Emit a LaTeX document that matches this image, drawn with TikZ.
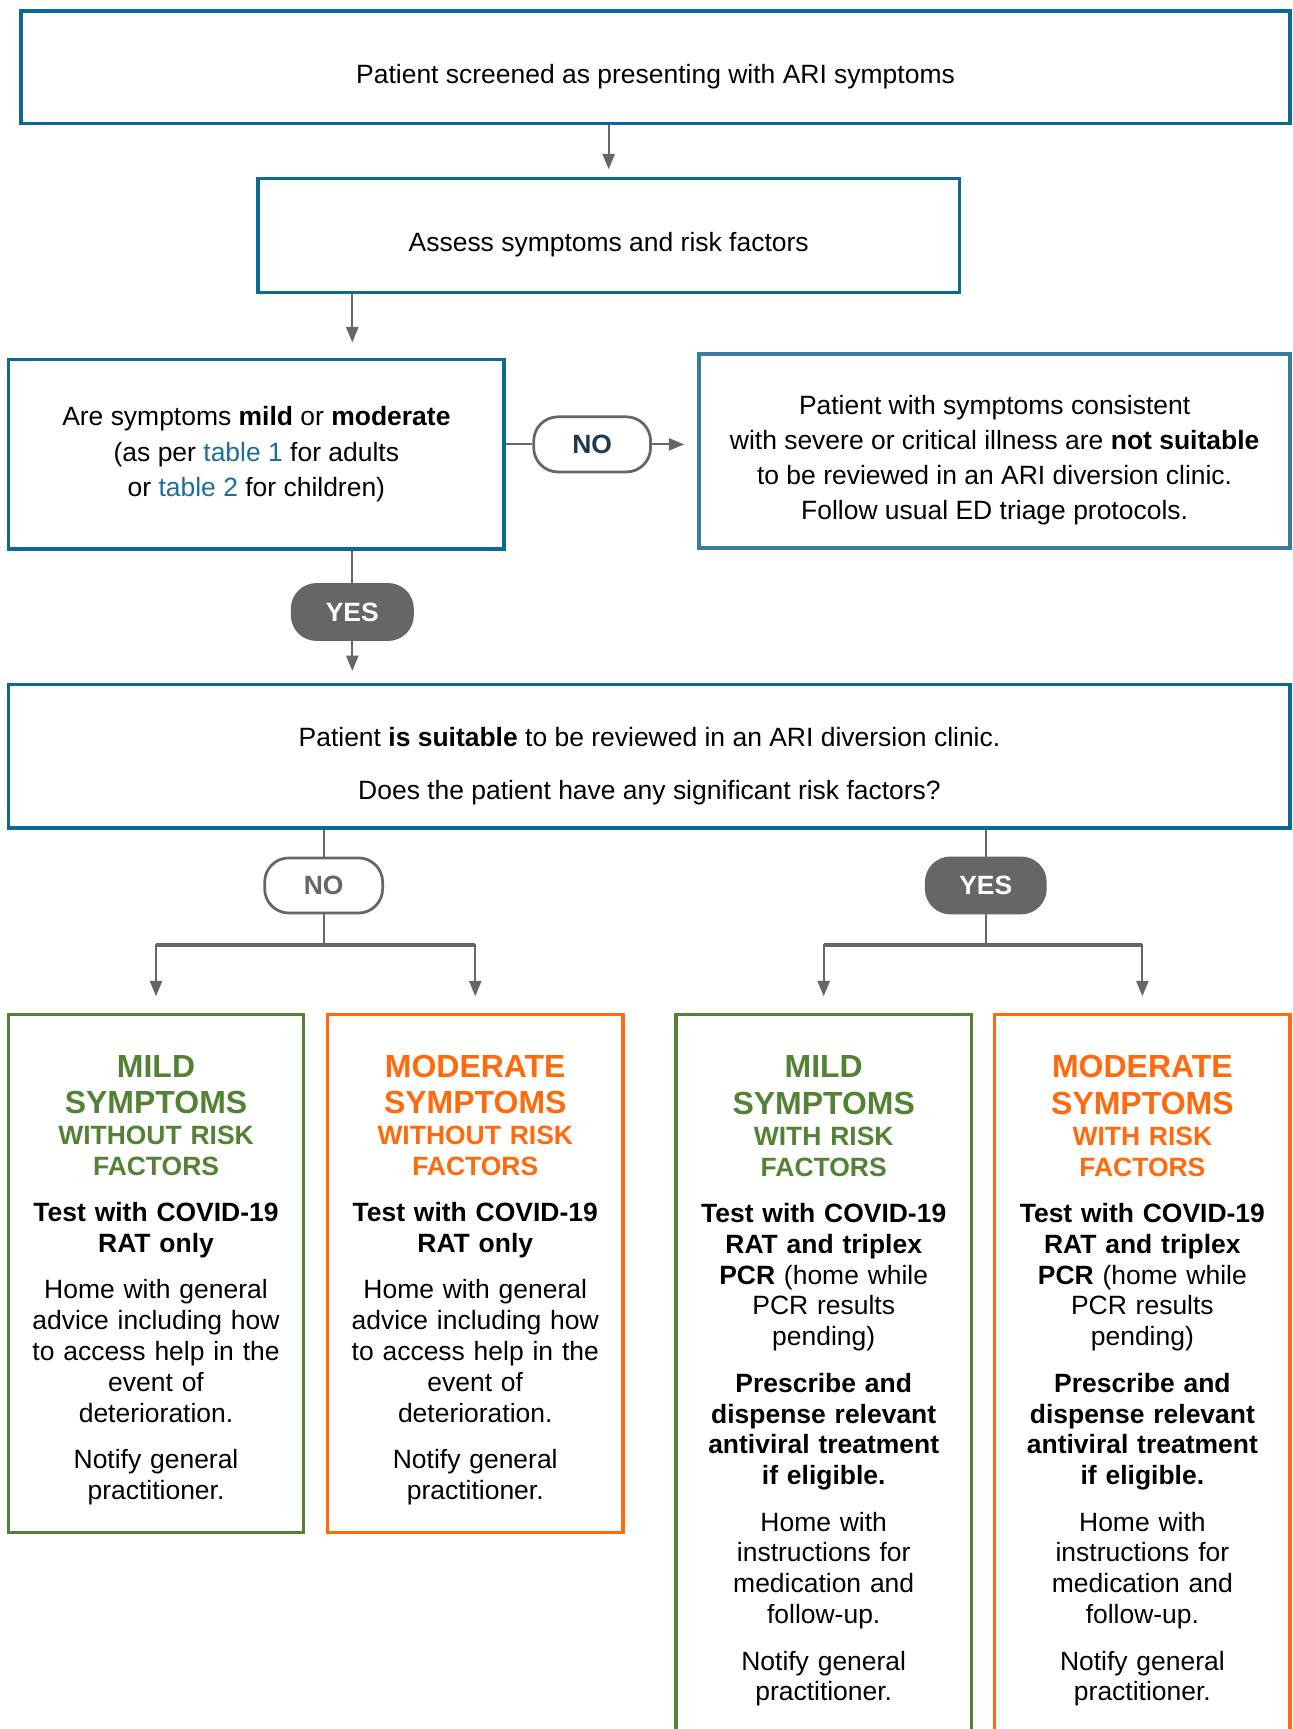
\documentclass[tikz,border=0pt]{standalone}
\usepackage{fontspec}
\setmainfont{Liberation Sans}
\usetikzlibrary{arrows.meta}
\definecolor{boxblue}{HTML}{0B6A94}
\definecolor{paleblue}{HTML}{3B7C9A}
\definecolor{linkblue}{HTML}{1B6E9A}
\definecolor{mildgreen}{HTML}{548235}
\definecolor{modorange}{HTML}{FF6A0D}
\definecolor{linegray}{HTML}{666666}
\definecolor{pillnavy}{HTML}{1F3A4E}
\newcommand{\bodyfont}{\fontsize{12}{14}\selectfont}
\newcommand{\headfont}{\fontsize{14.5}{16.5}\selectfont\bfseries}
\newcommand{\tablink}[1]{\textcolor{linkblue}{#1}}

\begin{document}
\begin{tikzpicture}[x=0.5pt,y=-0.5pt,font=\fontsize{12}{16}\selectfont,
  flow/.style={-{Triangle[length=7pt,width=5.5pt]},line width=1pt,draw=linegray},
  joint/.style={line width=1pt,draw=linegray},
  fork/.style={line width=1.6pt,draw=linegray},
  bluebox/.style={draw=boxblue,line width=1.5pt,inner sep=0pt,align=center},
  pill/.style={draw=linegray,line width=1.25pt,rounded corners=11pt,minimum height=25pt,
    inner sep=0pt,font=\fontsize{12}{14}\selectfont\bfseries},
  outcome/.style={line width=1.5pt,inner sep=0pt,text width=128pt,align=center,
    minimum width=134pt,font=\bodyfont}]
\useasboundingbox (0,0) rectangle (1172,1568);
\clip (0,0) rectangle (1172,1568);

\node[bluebox,minimum width=575.5pt,minimum height=51pt,text height=17pt,text depth=2.5pt]
  (screen) at (594.5,61) {Patient screened as presenting with ARI symptoms};
\node[bluebox,minimum width=318pt,minimum height=51.5pt,text height=17pt,text depth=2.5pt]
  (assess) at (552,213.5) {Assess symptoms and risk factors};
\node[bluebox,minimum width=224.5pt,minimum height=86pt] (severity) at (232.5,412)
  {Are symptoms \textbf{mild} or \textbf{moderate}\\(as per \tablink{table 1} for adults\\or \tablink{table 2} for children)};
\node[bluebox,draw=paleblue,minimum width=268pt,minimum height=88pt] (severe) at (902,409)
  {\rule{0pt}{17pt}Patient with symptoms consistent\\with severe or critical illness are \textbf{not suitable}\\to be reviewed in an ARI diversion clinic.\\Follow usual ED triage protocols.};
\node[bluebox,minimum width=581pt,minimum height=65pt] (suitable) at (589,686)
  {\rule{0pt}{17.5pt}Patient \textbf{is suitable} to be reviewed in an ARI diversion clinic.\\[8pt]Does the patient have any significant risk factors?};

\node[pill,fill=white,minimum width=53pt,text=pillnavy] (noA) at (537,403) {NO};
\node[pill,fill=linegray,minimum width=54.5pt,text=white] (yesA) at (319.5,555) {YES};
\node[pill,fill=white,minimum width=53.5pt,text=linegray] (noB) at (293.5,803) {NO};
\node[pill,fill=linegray,minimum width=54pt,text=white] (yesB) at (894,803) {YES};

\node[outcome,draw=mildgreen,minimum height=235pt] (mildno) at (141.5,1155)
  {{\headfont\color{mildgreen}\rule{0pt}{16pt}MILD\\SYMPTOMS\\}%
   {\bfseries\color{mildgreen}WITHOUT RISK\\FACTORS\\[7pt]}%
   {\bfseries Test with COVID-19\\RAT only\\[7pt]}%
   Home with general\\advice including how\\to access help in the\\event of\\deterioration.\\[7pt]%
   Notify general\\practitioner.};
\node[outcome,draw=modorange,minimum height=235pt] (modno) at (431,1155)
  {{\headfont\color{modorange}\rule{0pt}{16pt}MODERATE\\SYMPTOMS\\}%
   {\bfseries\color{modorange}WITHOUT RISK\\FACTORS\\[7pt]}%
   {\bfseries Test with COVID-19\\RAT only\\[7pt]}%
   Home with general\\advice including how\\to access help in the\\event of\\deterioration.\\[7pt]%
   Notify general\\practitioner.};
\node[outcome,draw=mildgreen,minimum height=330pt] (mildyes) at (747,1250)
  {{\headfont\color{mildgreen}\rule{0pt}{12.5pt}MILD\\SYMPTOMS\\}%
   {\bfseries\color{mildgreen}WITH RISK\\FACTORS\\[7pt]}%
   {\bfseries Test with COVID-19\\RAT and triplex\\PCR} (home while\\PCR results\\pending)\\[7pt]%
   {\bfseries Prescribe and\\dispense relevant\\antiviral treatment\\if eligible.\\[7pt]}%
   Home with\\instructions for\\medication and\\follow-up.\\[7pt]%
   Notify general\\practitioner.};
\node[outcome,draw=modorange,minimum height=330pt] (modyes) at (1036,1250)
  {{\headfont\color{modorange}\rule{0pt}{12.5pt}MODERATE\\SYMPTOMS\\}%
   {\bfseries\color{modorange}WITH RISK\\FACTORS\\[7pt]}%
   {\bfseries Test with COVID-19\\RAT and triplex\\PCR} (home while\\PCR results\\pending)\\[7pt]%
   {\bfseries Prescribe and\\dispense relevant\\antiviral treatment\\if eligible.\\[7pt]}%
   Home with\\instructions for\\medication and\\follow-up.\\[7pt]%
   Notify general\\practitioner.};

\coordinate (nofork) at (293.5,857);
\coordinate (yesfork) at (894,857);

\draw[flow,shorten >=3.5pt] (screen.south -| assess) -- (assess);
\draw[flow,shorten >=7pt] (assess.south -| yesA) -- (severity.north -| yesA);
\draw[joint] (severity.east |- noA) -- (noA);
\draw[flow,shorten >=6pt] (noA) -- (severe.west |- noA);
\draw[joint] (severity.south -| yesA) -- (yesA);
\draw[flow,shorten >=5.5pt] (yesA) -- (suitable.north -| yesA);
\draw[joint] (suitable.south -| noB) -- (noB);
\draw[joint] (suitable.south -| yesB) -- (yesB);
\draw[joint] (noB) -- (nofork);
\draw[joint] (yesB) -- (yesfork);
\draw[fork] (nofork -| mildno) -- (nofork -| modno);
\draw[fork] (yesfork -| mildyes) -- (yesfork -| modyes);
\draw[flow,shorten >=7.5pt] (nofork) -| (mildno);
\draw[flow,shorten >=7.5pt] (nofork) -| (modno);
\draw[flow,shorten >=7.5pt] (yesfork) -| (mildyes);
\draw[flow,shorten >=7.5pt] (yesfork) -| (modyes);
\end{tikzpicture}
\end{document}
